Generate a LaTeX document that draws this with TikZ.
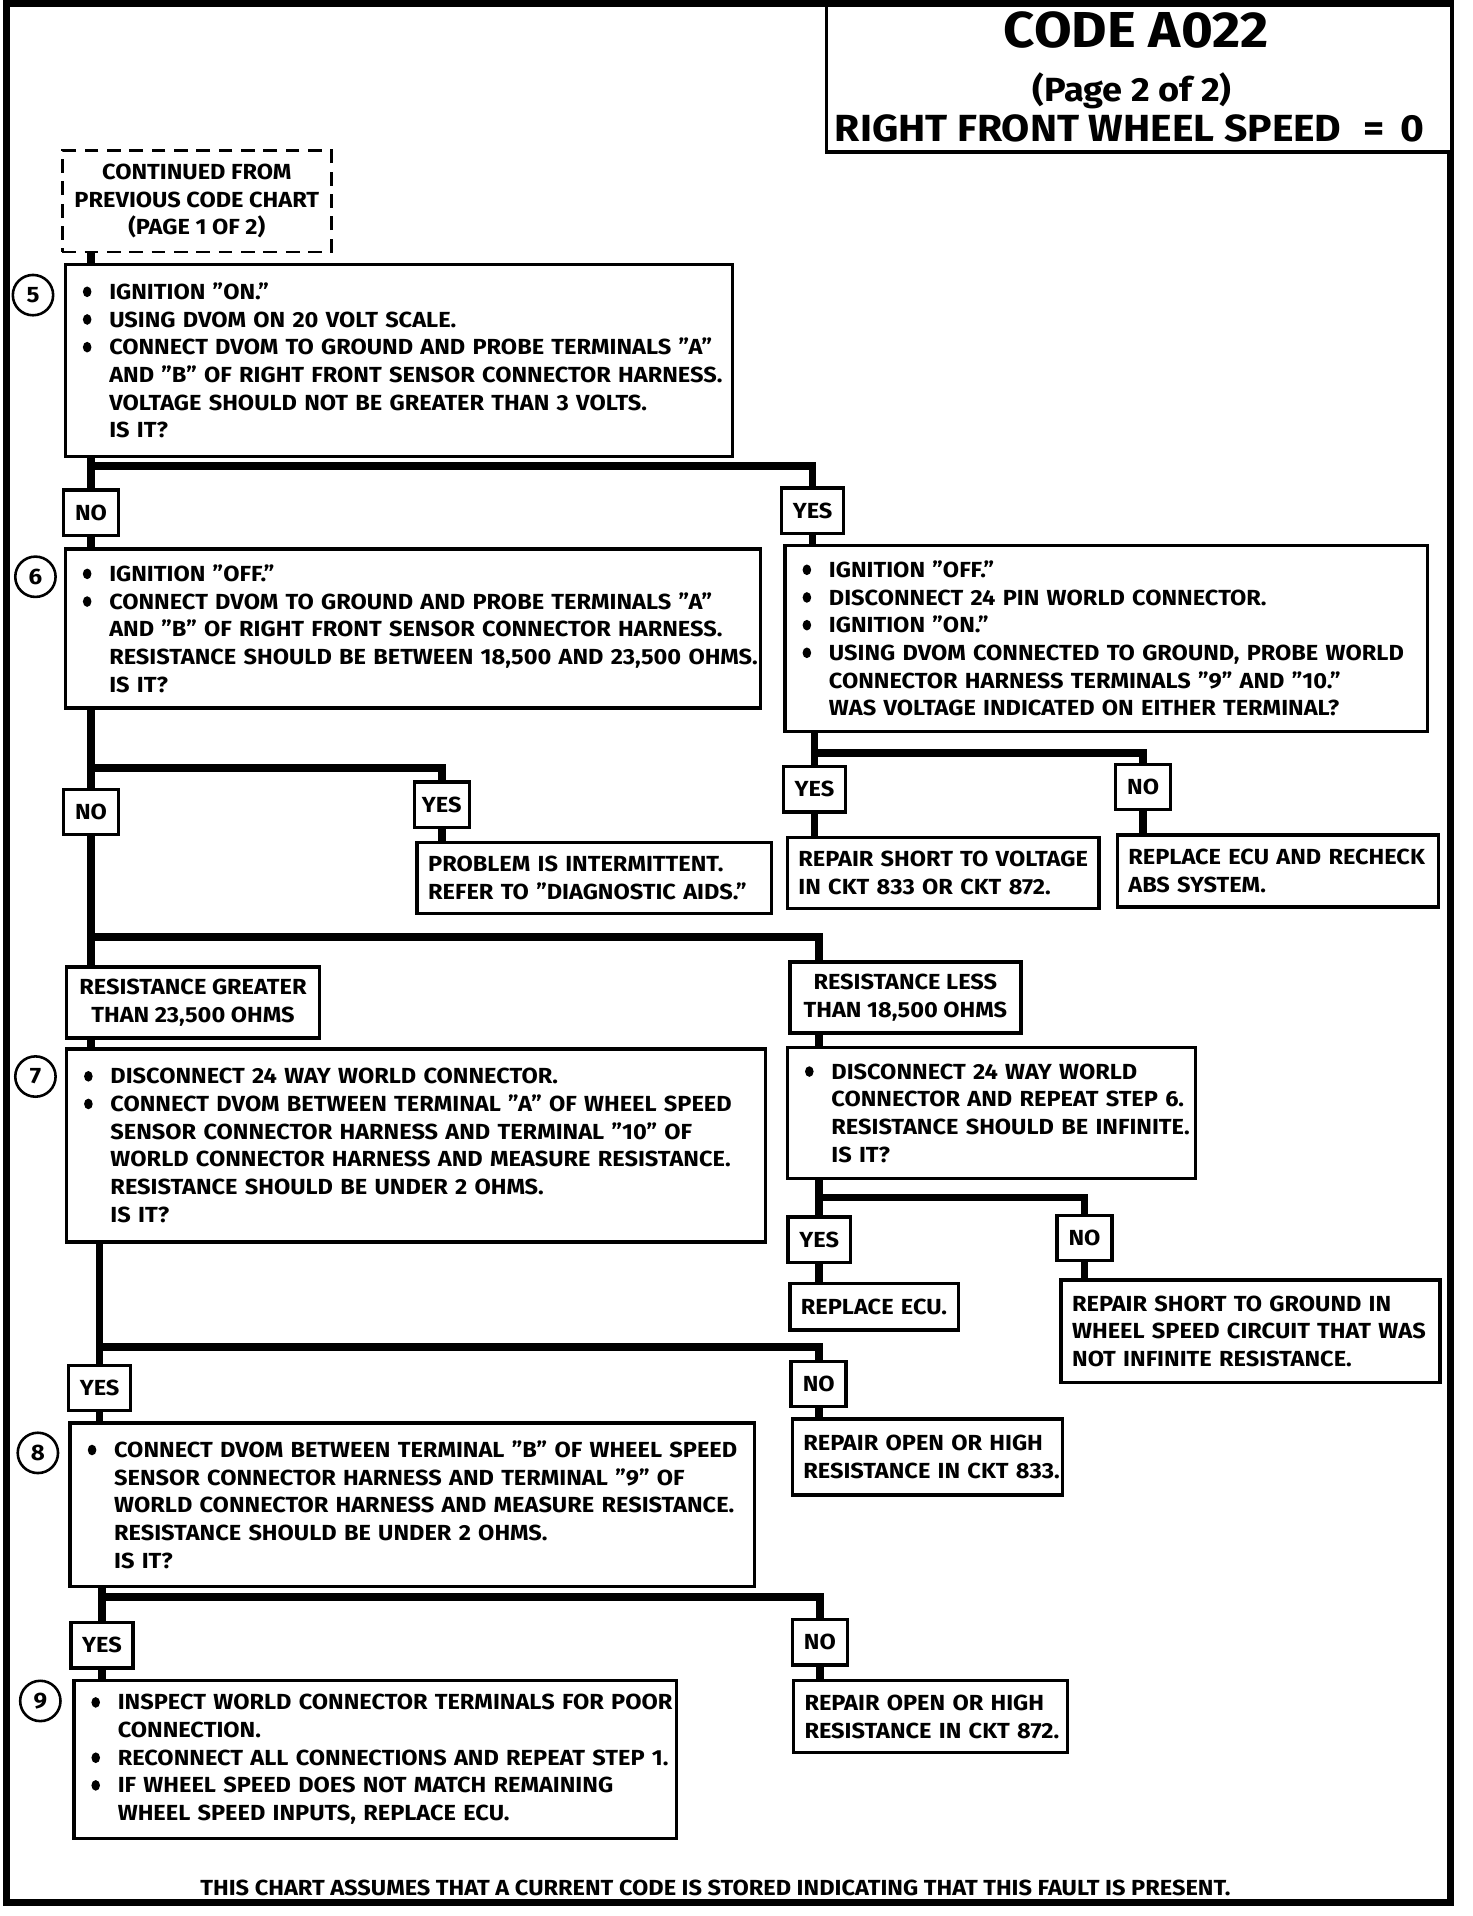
\documentclass[tikz,border=0pt]{standalone}
\usepackage{fontspec}
\setmainfont{Fira Sans}[FakeStretch=1.08]
\usetikzlibrary{positioning, calc}

\newlength\pxu
\setlength\pxu{0.025cm}
% one text line each, so that nothing wraps
\newcommand\bul[1]{\mbox{\hspace{4\pxu}\makebox[23\pxu][l]{\hspace{1pt}\tikz[baseline=-4.4pt]\fill (0,0) ellipse [x radius=2.5pt, y radius=3.1pt];}#1}}
\newcommand\ind[1]{\mbox{\hspace{27\pxu}#1}}
\newcommand\row[1]{\mbox{#1}}

\begin{document}
\begin{tikzpicture}[x=0.025cm, y=-0.025cm]
  % Styles
  \tikzstyle{every node}=[font=\bfseries\fontsize{12.7}{16.1}\selectfont]
  \tikzstyle{link}=[line width=4.5pt]
  \tikzset{stepbox/.style={draw, line width=2pt, fill=white, anchor=north west, align=left, inner xsep=0.225cm, inner ysep=0pt}}
  \tikzset{sz/.style 2 args={minimum width=#1*0.025cm, minimum height=#2*0.025cm, text width=#1*0.025cm-0.45cm}}
  \tikzset{ctr/.style={align=center, text width={}}}
  \tikzset{contbox/.style={stepbox, line width=1.5pt, dash pattern=on 8pt off 5pt}}
  \tikzset{answer/.style={draw, line width=2pt, fill=white, minimum width=1.125cm, minimum height=0.925cm, inner sep=1pt}}
  \tikzset{wide/.style={minimum width=1.275cm}}
  \tikzset{stepno/.style={circle, draw, line width=1.5pt, minimum size=0.825cm, inner sep=0pt, font=\bfseries\fontsize{13}{13}\selectfont}}

  \useasboundingbox (0,0) rectangle (1205,1568);
  \draw[line width=4pt] (5,3) rectangle (1187,1557);

  % --- Title ---
  \node[stepbox, sz={512}{120}] (title) at (675,3) {};
  \node[anchor=base, font=\bfseries\fontsize{29.4}{32}\selectfont] (code) at (930,39) {CODE A022};
  \node[anchor=base, font=\bfseries\fontsize{19.5}{22}\selectfont] (page) at (926.5,83) {(Page 2 of 2)};
  \node[anchor=base, font=\bfseries\fontsize{22}{26}\selectfont] (rfws) at (924.5,116) {RIGHT FRONT WHEEL SPEED\hspace{13pt}=\hspace{9pt}0};

  % --- Steps ---
  \node[contbox, sz={220}{83}, ctr] (cont) at (50,122) {CONTINUED FROM\\PREVIOUS CODE CHART\\(PAGE 1 OF 2)};

  \node[stepbox, sz={546}{157}] (s5) at (52,215)
    {\bul{IGNITION "ON."}\\
     \bul{USING DVOM ON 20 VOLT SCALE.}\\
     \bul{CONNECT DVOM TO GROUND AND PROBE TERMINALS "A"}\\
     \ind{AND "B" OF RIGHT FRONT SENSOR CONNECTOR HARNESS.}\\
     \ind{VOLTAGE SHOULD NOT BE GREATER THAN 3 VOLTS.}\\
     \ind{IS IT?}};
  \node[stepno] (n5) at (27,241.5) {5};

  \node[answer] (no5) at (74.5,419.5) {NO};
  \node[answer, wide] (yes5) at (665,418) {YES};

  \node[stepbox, sz={569}{130}] (s6) at (52,448)
    {\bul{IGNITION "OFF."}\\
     \bul{CONNECT DVOM TO GROUND AND PROBE TERMINALS "A"}\\
     \ind{AND "B" OF RIGHT FRONT SENSOR CONNECTOR HARNESS.}\\
     \ind{RESISTANCE SHOULD BE BETWEEN 18,500 AND 23,500 OHMS.}\\
     \ind{IS IT?}};
  \node[stepno] (n6) at (29,472) {6};

  \node[stepbox, sz={526}{152}] (volt) at (641,445)
    {\bul{IGNITION "OFF."}\\
     \bul{DISCONNECT 24 PIN WORLD CONNECTOR.}\\
     \bul{IGNITION "ON."}\\
     \bul{USING DVOM CONNECTED TO GROUND, PROBE WORLD}\\
     \ind{CONNECTOR HARNESS TERMINALS "9" AND "10."}\\
     \ind{WAS VOLTAGE INDICATED ON EITHER TERMINAL?}};

  \node[answer, wide] (yesV) at (666.5,646) {YES};
  \node[answer] (noV) at (935.5,644) {NO};
  \node[stepbox, sz={255}{58}] (shortV) at (643,684) {\row{REPAIR SHORT TO VOLTAGE}\\\row{IN CKT 833 OR CKT 872.}};
  \node[stepbox, sz={263}{59}] (ecuR) at (913,682) {\row{REPLACE ECU AND RECHECK}\\\row{ABS SYSTEM.}};

  \node[answer] (no6) at (74.5,664.5) {NO};
  \node[answer] (yes6) at (361.5,658.5) {YES};
  \node[stepbox, sz={290}{58}] (interm) at (340,688) {\row{PROBLEM IS INTERMITTENT.}\\\row{REFER TO "DIAGNOSTIC AIDS."}};

  \node[stepbox, sz={207}{58}, ctr] (grt) at (53,790) {RESISTANCE GREATER\\THAN 23,500 OHMS};
  \node[stepbox, sz={189}{58}, ctr] (less) at (645,786) {RESISTANCE LESS\\THAN 18,500 OHMS};

  \node[stepbox, sz={572}{158}] (s7) at (53,857)
    {\bul{DISCONNECT 24 WAY WORLD CONNECTOR.}\\
     \bul{CONNECT DVOM BETWEEN TERMINAL "A" OF WHEEL SPEED}\\
     \ind{SENSOR CONNECTOR HARNESS AND TERMINAL "10" OF}\\
     \ind{WORLD CONNECTOR HARNESS AND MEASURE RESISTANCE.}\\
     \ind{RESISTANCE SHOULD BE UNDER 2 OHMS.}\\
     \ind{IS IT?}};
  \node[stepno] (n7) at (29,881) {7};

  \node[stepbox, sz={334}{107}] (disc) at (643,856)
    {\bul{DISCONNECT 24 WAY WORLD}\\
     \ind{CONNECTOR AND REPEAT STEP 6.}\\
     \ind{RESISTANCE SHOULD BE INFINITE.}\\
     \ind{IS IT?}};

  \node[answer, wide] (yesD) at (670.5,1014.5) {YES};
  \node[answer] (noD) at (887.5,1013) {NO};
  \node[stepbox, sz={138}{38}] (ecu) at (645,1049) {\row{REPLACE ECU.}};
  \node[stepbox, sz={310}{84}] (shortG) at (867,1046) {\row{REPAIR SHORT TO GROUND IN}\\\row{WHEEL SPEED CIRCUIT THAT WAS}\\\row{NOT INFINITE RESISTANCE.}};

  \node[answer, wide] (yes7) at (81.5,1136) {YES};
  \node[answer] (no7) at (670,1132.5) {NO};
  \node[stepbox, sz={221}{62}] (open833) at (647,1160) {\row{REPAIR OPEN OR HIGH}\\\row{RESISTANCE IN CKT 833.}};

  \node[stepbox, sz={560}{134}] (s8) at (56,1163)
    {\bul{CONNECT DVOM BETWEEN TERMINAL "B" OF WHEEL SPEED}\\
     \ind{SENSOR CONNECTOR HARNESS AND TERMINAL "9" OF}\\
     \ind{WORLD CONNECTOR HARNESS AND MEASURE RESISTANCE.}\\
     \ind{RESISTANCE SHOULD BE UNDER 2 OHMS.}\\
     \ind{IS IT?}};
  \node[stepno] (n8) at (31,1189) {8};

  \node[answer, wide] (yes8) at (83.5,1346.5) {YES};
  \node[answer] (no8) at (671,1344) {NO};
  \node[stepbox, sz={224}{59}] (open872) at (648,1374) {\row{REPAIR OPEN OR HIGH}\\\row{RESISTANCE IN CKT 872.}};

  \node[stepbox, sz={493}{129}] (s9) at (59,1374)
    {\bul{INSPECT WORLD CONNECTOR TERMINALS FOR POOR}\\
     \ind{CONNECTION.}\\
     \bul{RECONNECT ALL CONNECTIONS AND REPEAT STEP 1.}\\
     \bul{IF WHEEL SPEED DOES NOT MATCH REMAINING}\\
     \ind{WHEEL SPEED INPUTS, REPLACE ECU.}};
  \node[stepno] (n9) at (33,1392) {9};

  \node[anchor=base] (note) at (585.5,1551) {THIS CHART ASSUMES THAT A CURRENT CODE IS STORED INDICATING THAT THIS FAULT IS PRESENT.};

  % --- Connectors ---
  % 1. Step 5
  \draw[link] (cont.south -| no5) -- (s5.north -| no5);
  \draw[link] (s5.south -| no5) -- (no5.north);
  \draw[link] (yes5.north) -- ++(0,-17) -| (no5.north);
  \draw[link] (no5.south) -- (s6.north -| no5);
  \draw[link] (yes5.south) -- (volt.north -| yes5);

  % 2. Step 6 and voltage check
  \draw[link] (s6.south -| no6) -- (no6.north);
  \draw[link] (yes6.north) -- ++(0,-10) -| (no6.north);
  \draw[link] (yes6.south) -- (interm.north -| yes6);
  \draw[link] (volt.south -| yesV) -- (yesV.north);
  \draw[link] (noV.north) -- ++(0,-8) -| (yesV.north);
  \draw[link] (yesV.south) -- (shortV.north -| yesV);
  \draw[link] (noV.south) -- (ecuR.north -| noV);

  % 3. Resistance out of range
  \draw[link] (no6.south) -- (grt.north -| no6);
  \draw[link] (less.north -| yesD) -- ++(0,-19) -| (no6.south);
  \draw[link] (grt.south -| no6) -- (s7.north -| no6);
  \draw[link] (less.south -| yesD) -- (disc.north -| yesD);
  \draw[link] (disc.south -| yesD) -- (yesD.north);
  \draw[link] (noD.north) -- ++(0,-13) -| (yesD.north);
  \draw[link] (yesD.south) -- (ecu.north -| yesD);
  \draw[link] (noD.south) -- (shortG.north -| noD);

  % 4. Steps 7 to 9
  \draw[link] (s7.south -| yes7) -- (yes7.north);
  \draw[link] (no7.north) -- ++(0,-10) -| (yes7.north);
  \draw[link] (yes7.south) -- (s8.north -| yes7);
  \draw[link] (no7.south) -- (open833.north -| no7);
  \draw[link] (s8.south -| yes8) -- (yes8.north);
  \draw[link] (no8.north) -- ++(0,-17) -| (yes8.north);
  \draw[link] (yes8.south) -- (s9.north -| yes8);
  \draw[link] (no8.south) -- (open872.north -| no8);
\end{tikzpicture}
\end{document}
